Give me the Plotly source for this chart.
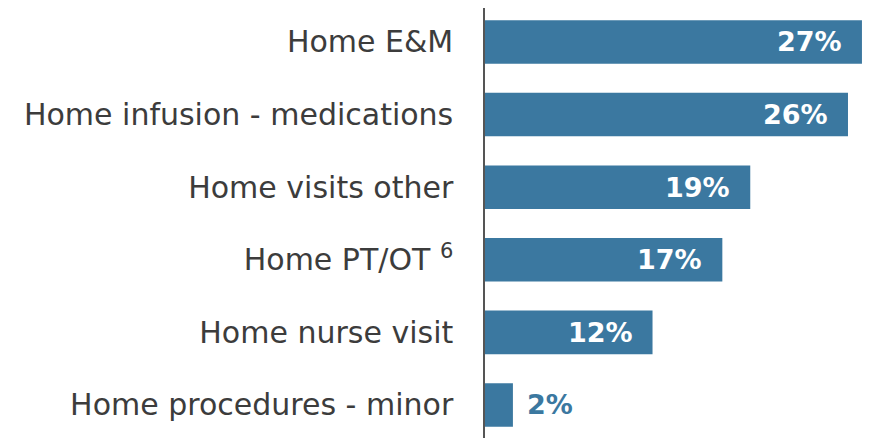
import plotly.graph_objects as go

categories = ["Home E&M", "Home infusion - medications", "Home visits other",
              "Home PT/OT <sup>6</sup>", "Home nurse visit", "Home procedures - minor"]
values = [27, 26, 19, 17, 12, 2]
value_labels = ["27%", "26%", "19%", "17%", "12%", "2%"]

BAR = "#3b78a0"
FONT = "DejaVu Sans"

fig = go.Figure(go.Bar(
    x=values, y=categories, orientation="h",
    marker=dict(color=BAR, line=dict(width=0)),
    hoverinfo="skip",
))

annotations = []
for cat, v, lab in zip(categories, values, value_labels):
    inside = v >= 5
    annotations.append(dict(
        x=v, y=cat, xref="x", yref="y", text="<b>" + lab + "</b>", showarrow=False,
        xanchor="right" if inside else "left", xshift=-18 if inside else 12,
        font=dict(family=FONT, size=27, color="white" if inside else BAR),
    ))

fig.update_layout(
    width=872, height=438,
    margin=dict(l=477, r=8, t=0, b=8),
    paper_bgcolor="white", plot_bgcolor="white",
    bargap=0.4, showlegend=False,
    annotations=annotations,
    font=dict(family=FONT, color="#3c3c3c"),
)
fig.update_xaxes(range=[0, 27.72], visible=False, showgrid=False, zeroline=False)
fig.update_yaxes(
    range=[5.455, -0.468], autorange=False,
    showline=True, linecolor="#555555", linewidth=1.5,
    showgrid=False, zeroline=False, ticks="",
    ticklabelstandoff=24,
    tickfont=dict(family=FONT, size=30, color="#3c3c3c"),
)

fig.write_html("out.html")
